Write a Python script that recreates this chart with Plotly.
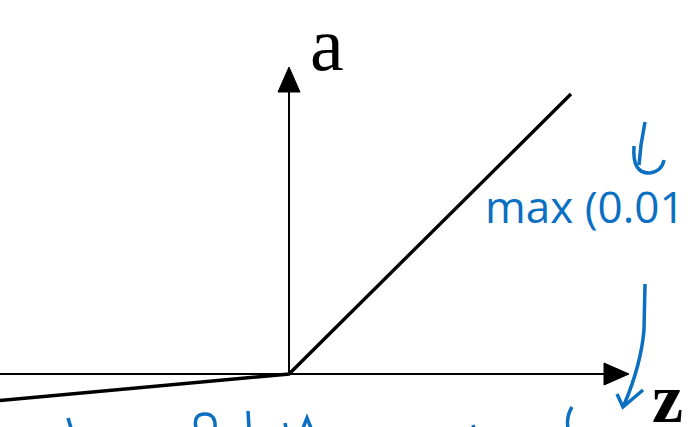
import plotly.graph_objects as go

# Leaky ReLU data (z, a)
z_values = [-10.5, 0.0, 10.0]
a_values = [-0.97, 0.0, 10.0]
axis_labels = ["a", "z"]
note_text = "max (0.01"

W, H = 694, 427
OX, OY = 289.0, 374.0      # origin pixel
SX, SY = 28.2, 28.0        # pixels per unit


def fx(px):
    return (px - OX) / SX


def fy(py):
    return (OY - py) / SY


def P(pts, close=False):
    s = ""
    for cmd, coords in pts:
        if cmd == "L":
            for a, b in coords:
                s += f"L {fx(a):.4f},{fy(b):.4f} "
        else:
            s += cmd + " " + " ".join(f"{fx(a):.4f},{fy(b):.4f}" for a, b in coords) + " "
    if close:
        s += "Z"
    return s.strip()


BLUE = "#0b6fc2"

fig = go.Figure()
fig.add_trace(go.Scatter(x=z_values, y=a_values, mode="lines",
                         line=dict(color="black", width=3.4), hoverinfo="skip",
                         showlegend=False))

shapes = []
# axes
shapes.append(dict(type="line", x0=fx(-5), y0=0, x1=fx(607), y1=0,
                   line=dict(color="black", width=2)))
shapes.append(dict(type="path", path=P([("M", [(604, 363)]), ("L", [(629, 374), (604, 385)])], True),
                   fillcolor="black", line=dict(color="black", width=1)))
shapes.append(dict(type="line", x0=0, y0=0, x1=0, y1=fy(90),
                   line=dict(color="black", width=2)))
shapes.append(dict(type="path", path=P([("M", [(278, 92)]), ("L", [(289, 67), (300, 92)])], True),
                   fillcolor="black", line=dict(color="black", width=1)))

# handwritten blue strokes
strokes = [
    P([("M", [(645, 122)]), ("L", [(641, 145), (639, 165)])]),
    P([("M", [(634, 146)]), ("Q", [(632, 174), (650, 173)]), ("Q", [(662, 171), (664, 160)])]),
    P([("M", [(645, 284)]), ("L", [(644, 330)]), ("Q", [(641, 365), (624, 405)])]),
    P([("M", [(617, 394)]), ("L", [(623, 407), (643, 390)])]),
    P([("M", [(68, 418)]), ("L", [(71, 428)])]),
    P([("M", [(196, 428)]), ("Q", [(193, 414), (205, 414)]), ("Q", [(216, 414), (215, 428)])]),
    P([("M", [(248, 411)]), ("L", [(249, 428)])]),
    P([("M", [(285, 423)]), ("L", [(286, 428)])]),
    P([("M", [(303, 428)]), ("L", [(307, 418), (311, 428)])]),
    P([("M", [(473, 425)]), ("L", [(474, 428)])]),
    P([("M", [(572, 407)]), ("Q", [(566, 417), (568, 428)])]),
]
for s in strokes:
    shapes.append(dict(type="path", path=s, line=dict(color=BLUE, width=3.5)))

fig.update_layout(shapes=shapes)

fig.add_annotation(x=fx(327), y=fy(44), text=axis_labels[0], showarrow=False,
                   font=dict(family="Liberation Serif", size=76, color="black"),
                   xanchor="center", yanchor="middle")
fig.add_annotation(x=fx(667), y=fy(398), text="<b>" + axis_labels[1] + "</b>", showarrow=False,
                   font=dict(family="Liberation Serif", size=70, color="black"),
                   xanchor="center", yanchor="middle")
fig.add_annotation(x=fx(483), y=fy(206), text=note_text, showarrow=False,
                   font=dict(family="Open Sans", size=44, color=BLUE),
                   xanchor="left", yanchor="middle")

fig.update_xaxes(visible=False, range=[fx(0), fx(W)], fixedrange=True)
fig.update_yaxes(visible=False, range=[fy(H), fy(0)], fixedrange=True)
fig.update_layout(width=W, height=H, margin=dict(l=0, r=0, t=0, b=0),
                  paper_bgcolor="white", plot_bgcolor="white", showlegend=False)

fig.write_html("out.html", config={"displayModeBar": False},
               post_script="document.body.style.margin='0';document.body.style.overflow='hidden';")
